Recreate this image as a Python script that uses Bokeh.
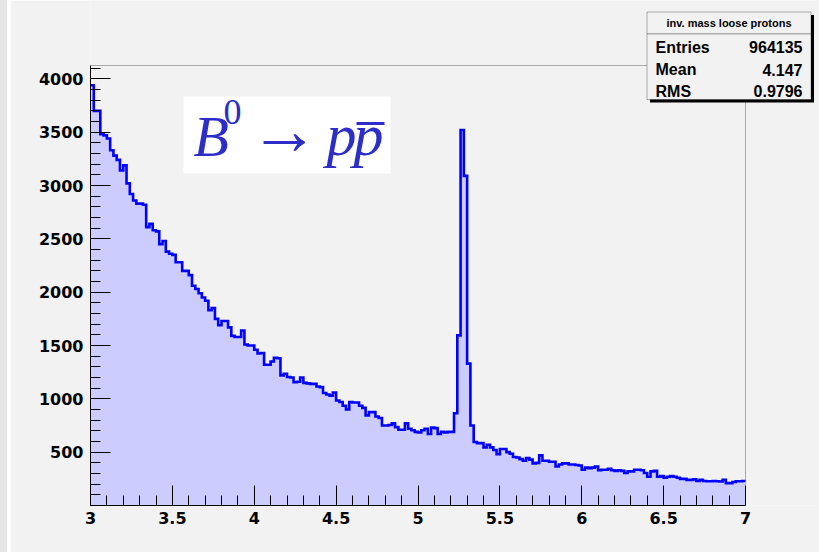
import numpy as np
from bokeh.plotting import figure
from bokeh.layouts import row
from bokeh.models import BoxAnnotation, Label, FixedTicker, NumeralTickFormatter, Range1d, Spacer
from bokeh.embed import file_html
from bokeh.resources import INLINE

# ---- data: histogram "inv. mass loose protons", 200 bins from 3 to 7 ----
x_low, x_high = 3.0, 7.0
counts_300_400 = [3940, 3700, 3700, 3480, 3470, 3440, 3330, 3280, 3240, 3140,
                  3190, 3020, 2920, 2860, 2830, 2830, 2820, 2610, 2640, 2580,
                  2570, 2450, 2480, 2380, 2360, 2350, 2280, 2280, 2200, 2200,
                  2160, 2060, 2030, 1990, 1950, 1920, 1830, 1850, 1750, 1690,
                  1730, 1730, 1670, 1590, 1580, 1580, 1640, 1510, 1500, 1500]
counts_400_500 = [1460, 1425, 1430, 1320, 1320, 1350, 1385, 1380, 1220, 1235,
                  1205, 1200, 1155, 1160, 1200, 1150, 1145, 1140, 1140, 1115,
                  1110, 1055, 1040, 1030, 1060, 985, 970, 935, 900, 970,
                  965, 965, 935, 915, 845, 875, 875, 835, 820, 750,
                  750, 755, 770, 735, 710, 710, 770, 720, 705, 690]
counts_500_600 = [685, 705, 720, 670, 730, 725, 670, 690, 685, 690,
                  690, 865, 1595, 3520, 3090, 1330, 750, 595, 585, 585,
                  545, 570, 545, 520, 480, 530, 530, 500, 485, 455,
                  450, 435, 420, 445, 430, 395, 400, 470, 420, 420,
                  410, 410, 365, 385, 395, 395, 385, 385, 380, 375]
counts_600_700 = [335, 355, 350, 355, 365, 330, 335, 335, 345, 330,
                  325, 330, 325, 305, 320, 320, 335, 335, 330, 305,
                  270, 320, 325, 270, 275, 260, 270, 275, 270, 260,
                  250, 250, 240, 240, 245, 230, 240, 230, 228, 228,
                  230, 228, 225, 240, 210, 210, 220, 228, 228, 230]
x_major_ticks = [3, 3.5, 4, 4.5, 5, 5.5, 6, 6.5, 7]
y_major_ticks = [500, 1000, 1500, 2000, 2500, 3000, 3500, 4000]
y_max = 4125
hist_title = "inv. mass loose protons"
stat_names = ["Entries", "Mean", "RMS"]
stat_values = ["964135", "4.147", "0.9796"]

counts = np.array(counts_300_400 + counts_400_500 + counts_500_600 + counts_600_700, dtype=float)
nb = len(counts)
edges = x_low + (x_high - x_low) / nb * np.arange(nb + 1)
xs = np.repeat(edges, 2)[1:-1]
ys = np.repeat(counts, 2)

# ---- layout geometry (page pixels) ----
W, H = 819, 552
STRIP = 10
FL, FR, FT, FB = 90, 745, 65, 505     # histogram frame in page pixels
BG = "#f2f2f2"


def px2x(px):
    return x_low + (px - FL) / (FR - FL) * (x_high - x_low)


def py2y(py):
    return (FB - py) / (FB - FT) * y_max


def lab_y(py, fs):
    # compensate for baseline placement of rendered text
    return py2y(py - 0.37 * fs)


p = figure(width=W - STRIP, height=H, x_range=Range1d(x_low, px2x(W)), y_range=Range1d(0, py2y(0)),
           output_backend="svg", toolbar_location=None,
           min_border_left=FL - STRIP, min_border_right=0, min_border_top=0, min_border_bottom=H - FB,
           background_fill_color=BG, border_fill_color=BG)
p.grid.visible = False
p.outline_line_color = None

p.varea(x=xs, y1=np.zeros_like(ys), y2=ys, fill_color="#ccccff", fill_alpha=1)
p.line(x=xs, y=ys, line_color="#0000ff", line_width=2.6, line_join="miter")

# histogram frame
p.add_layout(BoxAnnotation(left=x_low, right=x_high, bottom=0, top=y_max,
                           fill_alpha=0, line_color="black", line_width=1, level="underlay"))

minor_x = [round(3 + 0.1 * i, 2) for i in range(41)]
minor_y = [100 * i for i in range(42)]
p.xaxis.ticker = FixedTicker(ticks=x_major_ticks, minor_ticks=minor_x)
p.yaxis.ticker = FixedTicker(ticks=y_major_ticks, minor_ticks=minor_y)
p.xaxis.formatter = NumeralTickFormatter(format="0.[0]")
p.xaxis.bounds = (x_low, x_high)
p.yaxis.bounds = (0, y_max)
for ax in (p.xaxis[0], p.yaxis[0]):
    ax.axis_line_color = "black"
    ax.major_tick_line_color = "black"
    ax.minor_tick_line_color = "black"
    ax.major_tick_in = 20
    ax.major_tick_out = 0
    ax.minor_tick_in = 10
    ax.minor_tick_out = 0
    ax.major_label_text_font = "DejaVu Sans"
    ax.major_label_text_font_style = "bold"
    ax.major_label_text_font_size = "16px"
    ax.major_label_text_color = "black"
p.yaxis.major_label_standoff = 7
p.xaxis.major_label_standoff = 6

# LaTeX-like label box
p.add_layout(BoxAnnotation(left=px2x(183), right=px2x(390), top=py2y(96), bottom=py2y(173),
                           fill_color="white", fill_alpha=1, line_alpha=0))
tc = "#2d2dc8"
p.add_layout(Label(x=px2x(193), y=lab_y(157, 58), text="B", text_font="Liberation Serif",
                   text_font_style="italic", text_font_size="58px", text_color=tc,
                   text_baseline="alphabetic"))
p.add_layout(Label(x=px2x(223), y=lab_y(125, 36), text="0", text_font="Liberation Serif",
                   text_font_size="36px", text_color=tc, text_baseline="alphabetic"))
p.add_layout(Label(x=px2x(249), y=lab_y(156, 70), text="\u2192", text_font="Liberation Serif",
                   text_font_size="70px", text_color=tc, text_baseline="alphabetic"))
p.add_layout(Label(x=px2x(326), y=lab_y(157, 60), text="p", text_font="Liberation Serif",
                   text_font_style="italic", text_font_size="60px", text_color=tc,
                   text_baseline="alphabetic"))
p.add_layout(Label(x=px2x(353), y=lab_y(157, 60), text="p", text_font="Liberation Serif",
                   text_font_style="italic", text_font_size="60px", text_color=tc,
                   text_baseline="alphabetic"))
p.add_layout(BoxAnnotation(left=px2x(356), right=px2x(384), top=py2y(121.5), bottom=py2y(124.5),
                           fill_color=tc, fill_alpha=1, line_alpha=0))

# stats box with shadow
p.add_layout(BoxAnnotation(left=px2x(649.5), right=px2x(813.5), top=py2y(14.5), bottom=py2y(102),
                           fill_color="black", fill_alpha=1, line_alpha=0))
p.add_layout(BoxAnnotation(left=px2x(646.5), right=px2x(810.5), top=py2y(11.5), bottom=py2y(33.5),
                           fill_color=BG, fill_alpha=1, line_color="black", line_width=1))
p.add_layout(BoxAnnotation(left=px2x(646.5), right=px2x(810.5), top=py2y(33.5), bottom=py2y(99),
                           fill_color=BG, fill_alpha=1, line_color="black", line_width=1))
p.add_layout(Label(x=px2x(728.5), y=lab_y(27, 11), text=hist_title, text_font="Liberation Sans",
                   text_font_style="bold", text_font_size="11px", text_align="center",
                   text_baseline="alphabetic", text_color="black"))
for i, (nm, val) in enumerate(zip(stat_names, stat_values)):
    by = [52.5, 75, 96.5][i]
    p.add_layout(Label(x=px2x(655), y=lab_y(by, 16), text=nm, text_font="Liberation Sans",
                       text_font_style="bold", text_font_size="16px", text_align="left",
                       text_baseline="alphabetic", text_color="black"))
    p.add_layout(Label(x=px2x(802), y=lab_y(by, 16), text=val, text_font="Liberation Sans",
                       text_font_style="bold", text_font_size="16px", text_align="right",
                       text_baseline="alphabetic", text_color="black"))

strip_dark = Spacer(width=7, height=H, styles={"background-color": "#e6e6e6"})
strip_light = Spacer(width=STRIP - 7, height=H, styles={"background-color": "#ffffff"})
layout = row(strip_dark, strip_light, p, spacing=0)

open("out.html", "w").write(file_html(layout, INLINE))
